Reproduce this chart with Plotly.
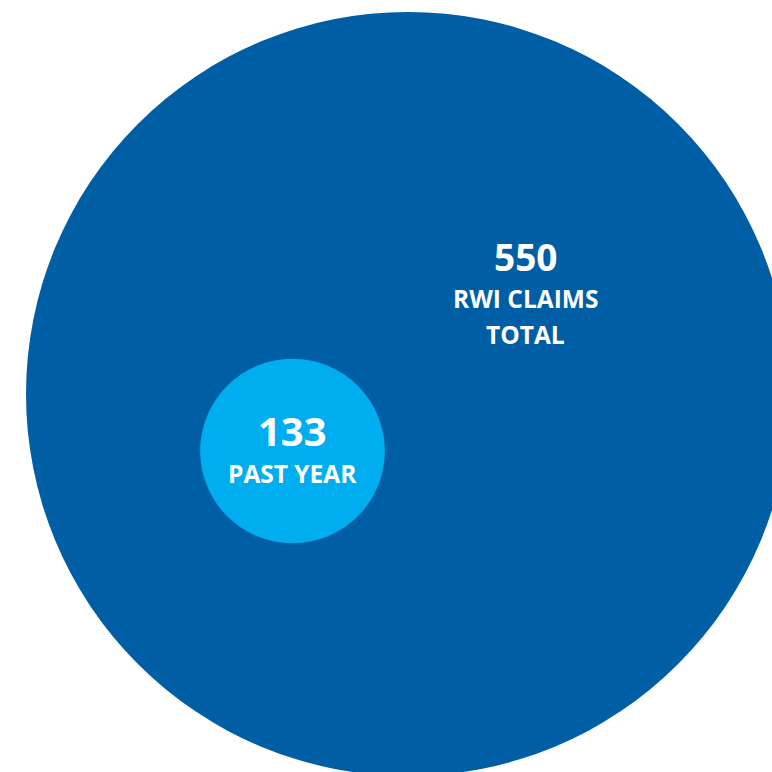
import plotly.graph_objects as go

# Claim counts; circle radius is drawn proportional to the count
labels = ["RWI CLAIMS<br>TOTAL", "PAST YEAR"]
values = [550, 133]
colors = ["#005EA5", "#00AEEF"]

W = 772
PX_PER_UNIT = 382 / 550          # pixels per claim (radius scale)
SPAN = W / PX_PER_UNIT           # axis span in claim units

def u(px):
    return px / PX_PER_UNIT

# circle centres in pixel space
centres = [(408, 394), (292.5, 451)]

fig = go.Figure()
shapes = []
for (cx, cy), v, c in zip(centres, values, colors):
    x, y = u(cx), u(cy)
    shapes.append(dict(type="circle", xref="x", yref="y",
                       x0=x - v, x1=x + v, y0=y - v, y1=y + v,
                       fillcolor=c, line=dict(width=0), layer="below"))

font = "Open Sans, Noto Sans, sans-serif"
cap = labels[0].split("<br>")
ann = []
# big circle: number and caption
ann.append(dict(x=u(525), y=u(256), text=str(values[0]), showarrow=False,
                font=dict(family=font, size=37, color="white", weight=700),
                xanchor="center", yanchor="middle"))
ann.append(dict(x=u(525), y=u(298), text=cap[0], showarrow=False,
                font=dict(family=font, size=24.5, color="white", weight=700),
                xanchor="center", yanchor="middle"))
ann.append(dict(x=u(525), y=u(334), text=cap[1], showarrow=False,
                font=dict(family=font, size=24.5, color="white", weight=700),
                xanchor="center", yanchor="middle"))
# small circle
ann.append(dict(x=u(292.5), y=u(430), text=str(values[1]), showarrow=False,
                font=dict(family=font, size=40, color="white", weight=700),
                xanchor="center", yanchor="middle"))
ann.append(dict(x=u(292.5), y=u(473), text=labels[1], showarrow=False,
                font=dict(family=font, size=24.5, color="white", weight=700),
                xanchor="center", yanchor="middle"))

fig.update_layout(
    width=W, height=W, margin=dict(l=0, r=0, t=0, b=0),
    paper_bgcolor="white", plot_bgcolor="white",
    shapes=shapes, annotations=ann, showlegend=False,
    xaxis=dict(range=[0, SPAN], visible=False, fixedrange=True),
    yaxis=dict(range=[SPAN, 0], visible=False, fixedrange=True),
)
fig.write_html("out.html")
